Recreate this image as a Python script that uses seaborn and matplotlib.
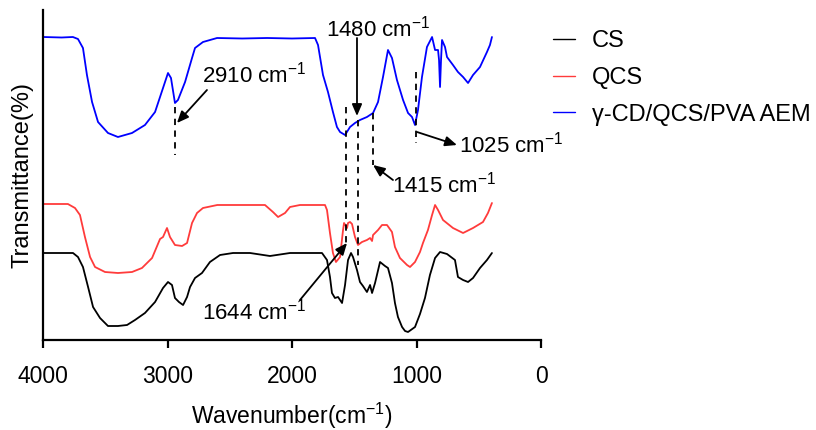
import numpy as np
import pandas as pd
import matplotlib
matplotlib.use("Agg")
import matplotlib.pyplot as plt
import seaborn as sns

# ---------------- data ----------------
cs_wn = [4000, 3759, 3719, 3679, 3638, 3598, 3542, 3478, 3398, 3325, 3261, 3181, 3100,
         3036, 2996, 2964, 2940, 2908, 2875, 2843, 2819, 2779, 2723, 2659, 2578, 2474,
         2337, 2177, 2016, 1759, 1719, 1695, 1679, 1655, 1630, 1598, 1574, 1550, 1526,
         1510, 1478, 1454, 1430, 1398, 1373, 1357, 1333, 1293, 1253, 1229, 1197, 1173,
         1149, 1116, 1092, 1068, 1012, 972, 932, 892, 851, 811, 755, 691, 667, 626, 586,
         546, 490, 434, 394]
cs_t = [87, 87, 83, 73, 53, 33, 22, 14, 14, 15, 20, 27, 38,
        52, 58, 55, 42, 38, 35, 43, 53, 62, 67, 78, 85, 87,
        87, 84, 87, 87, 80, 63, 47, 42, 43, 37, 55, 80, 87,
        83, 70, 58, 54, 48, 55, 47, 57, 78, 74, 72, 57, 37,
        23, 13, 9, 8, 13, 26, 42, 65, 82, 88, 86, 80, 63, 60, 58,
        62, 72, 80, 87]

qcs_wn = [4000, 3800, 3743, 3703, 3663, 3622, 3582, 3502, 3398, 3285, 3205, 3124, 3060,
          3036, 3004, 2980, 2940, 2883, 2843, 2803, 2763, 2715, 2600, 2217, 2153, 2112,
          2056, 2016, 1936, 1735, 1719, 1695, 1671, 1647, 1614, 1590, 1582, 1558, 1550,
          1534, 1518, 1494, 1470, 1438, 1398, 1373, 1357, 1349, 1309, 1277, 1237, 1197,
          1173, 1133, 1076, 1052, 1012, 972, 948, 908, 875, 851, 827, 787, 707, 626, 546,
          466, 426, 394]
qcs_t = [136, 136, 132, 125, 103, 83, 73, 68, 67, 68, 72, 82, 101,
         103, 112, 103, 95, 94, 97, 117, 127, 132, 135, 135, 128, 123,
         127, 133, 135, 135, 130, 107, 87, 78, 83, 110, 117, 112, 117,
         118, 116, 103, 95, 98, 100, 102, 99, 105, 110, 115, 115, 108,
         93, 82, 75, 73, 78, 88, 97, 110, 125, 135, 130, 120, 112, 107, 112,
         118, 127, 137]

aem_wn = [4000, 3850, 3760, 3719, 3679, 3647, 3606, 3558, 3478, 3398, 3285, 3181, 3100,
          3036, 2996, 2972, 2940, 2916, 2859, 2803, 2779, 2715, 2602, 2400, 2200, 2000,
          1815, 1791, 1751, 1711, 1671, 1639, 1614, 1574, 1534, 1494, 1454, 1398, 1349,
          1309, 1269, 1229, 1197, 1157, 1108, 1068, 1036, 1012, 988, 956, 916, 875, 851,
          827, 819, 811, 803, 795, 771, 755, 707, 667, 626, 586, 546, 490, 434, 410, 394]
aem_t = [303, 302.5, 303, 301, 292, 265, 238, 218, 207, 203, 207, 215, 228,
         252, 267, 262, 237, 240, 258, 282, 292, 298, 302, 301.5, 302, 301.5,
         302, 295, 265, 248, 228, 213, 208, 205, 213, 217, 220, 223, 227,
         238, 263, 290, 282, 260, 240, 227, 223, 215, 230, 263, 293, 303, 290,
         290, 280, 253, 280, 300, 293, 283, 275, 268, 263, 257, 265, 273, 288, 295, 303]

series_names = ["CS", "QCS", "γ-CD/QCS/PVA AEM"]
series_colors = ["#000000", "#ff3b3b", "#0000ff"]
x_ticks = [4000, 3000, 2000, 1000, 0]

# annotations: label, dashed line (wn, y_top, y_bottom), arrow tail, arrow head, text position
annotations = [
    ("2910", (2940, 233, 185), (2683, 250), (2924, 217), (2723, 265)),
    ("1480", (1472, 220, 75), (1478, 302), (1478, 224), (1309, 311)),
    ("1025", (1006, 268, 197), (996, 208), (675, 195), (655, 195)),
    ("1415", (1352, 227, 175), (1189, 160), (1349, 175), (1197, 155)),
    ("1644", (1569, 233, 96), (1936, 40), (1558, 97), (2723, 28)),
]

# ---------------- plotting ----------------
sns.set_style("ticks", {"axes.edgecolor": "black", "text.color": "black",
                        "axes.labelcolor": "black", "xtick.color": "black",
                        "ytick.color": "black"})
plt.rcParams["font.family"] = ["Liberation Sans", "DejaVu Sans"]
plt.rcParams["mathtext.fontset"] = "custom"
plt.rcParams["mathtext.rm"] = "Liberation Sans"

frames = []
for name, wn, t in [(series_names[0], cs_wn, cs_t),
                    (series_names[1], qcs_wn, qcs_t),
                    (series_names[2], aem_wn, aem_t)]:
    frames.append(pd.DataFrame({"wn": wn, "T": t, "sample": name}))
df = pd.concat(frames, ignore_index=True)

fig = plt.figure(figsize=(8.16, 4.30), dpi=100)
ax = fig.add_axes([43 / 816, 90 / 430, 498 / 816, 330 / 430])

sns.lineplot(data=df, x="wn", y="T", hue="sample", hue_order=series_names,
             palette=series_colors, sort=False, estimator=None, linewidth=1.3,
             ax=ax, legend=False)

ax.set_xlim(4000, 0)
ax.set_ylim(0, 330)
ax.set_xticks(x_ticks)
ax.set_xticklabels([str(v) for v in x_ticks], fontsize=16.5, color="black")
ax.set_yticks([])
ax.set_xlabel("Wavenumber(cm$^{-1}$)", fontsize=16.5, labelpad=9, color="black")
ax.set_ylabel("Transmittance(%)", fontsize=17, labelpad=7, color="black")
for s in ["top", "right"]:
    ax.spines[s].set_visible(False)
for s in ["left", "bottom"]:
    ax.spines[s].set_linewidth(1.6)
    ax.spines[s].set_color("black")
ax.tick_params(axis="x", length=6, width=1.6, pad=12, colors="black")

for label, (lx, ly0, ly1), tail, head, tpos in annotations:
    ax.plot([lx, lx], [ly0, ly1], ls=(0, (3.5, 3)), color="black", lw=1.3)
    ax.annotate("", xy=head, xytext=tail,
                arrowprops=dict(arrowstyle="-|>,head_length=0.7,head_width=0.3",
                                color="black", lw=1.3, shrinkA=0, shrinkB=0))
    ax.text(tpos[0], tpos[1], f"{label} cm$^{{-1}}$", fontsize=16, color="black",
            ha="left" if label != "1480" else "center", va="center")

handles = [plt.Line2D([], [], color=c, lw=1.0) for c in series_colors]
leg = fig.legend(handles, series_names, loc="upper left",
                 bbox_to_anchor=(532 / 816, 1 - 9 / 430), frameon=False, fontsize=17,
                 handlelength=0.9, handletextpad=0.72, labelspacing=0.62)
for t in leg.get_texts():
    t.set_color("black")

fig.savefig("out.png", dpi=100)
